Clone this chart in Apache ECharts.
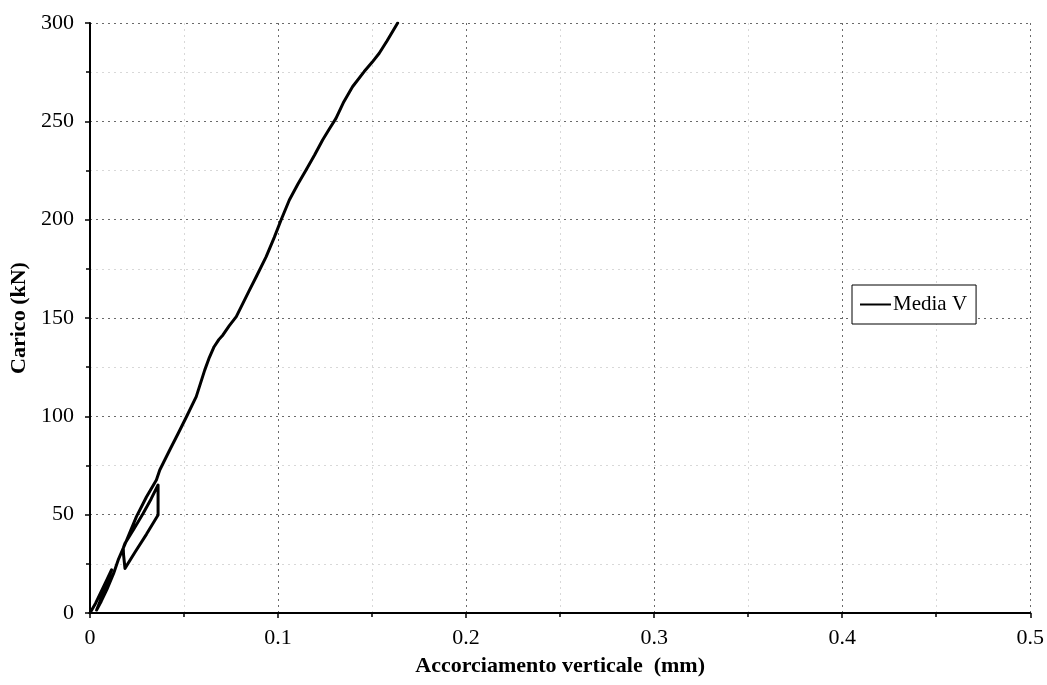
<!DOCTYPE html>
<html>
<head>
<meta charset="utf-8">
<script src="https://cdn.jsdelivr.net/npm/echarts@6/dist/echarts.min.js"></script>
<style>
  html, body { margin: 0; padding: 0; background: #fff; }
  #chart { width: 1047px; height: 685px; }
</style>
</head>
<body>
<div id="chart"></div>
<script>
// Vertical shortening (mm) vs load (kN), averaged transducers "Media V"

// first small load/unload near the origin
const startX = [0, 0.003, 0.006, 0.009, 0.0115, 0.008, 0.005, 0.0035];
const startY = [0, 5, 11, 17, 22, 13, 5, 1.5];

// reloading up to the first cycle peak
const reloadX = [0.006, 0.009, 0.0125, 0.0150, 0.0177, 0.0186, 0.0235, 0.0283, 0.0325, 0.0362];
const reloadY = [6, 12, 20, 27, 33, 35.4, 43, 50.7, 58, 65.1];

// load drop, unloading and return to the envelope
const cycleX = [0.0362, 0.0300, 0.0240, 0.0186, 0.0178, 0.0177];
const cycleY = [49.8, 40, 31, 22.7, 30, 32.9];

// final loading branch up to 300 kN
const branchX = [0.0210, 0.0247, 0.0300, 0.0353, 0.0371, 0.0424, 0.0470, 0.0513, 0.0565, 0.0610,
                 0.0635, 0.0660, 0.0685, 0.0707, 0.0740, 0.0778, 0.0848, 0.0884, 0.0937, 0.0980,
                 0.1016, 0.1060, 0.1105, 0.1149, 0.1195, 0.1237, 0.1275, 0.1308, 0.1350, 0.1396,
                 0.1458, 0.1500, 0.1538, 0.1580, 0.1636];
const branchY = [40.5, 49, 59, 67.6, 72.7, 82.9, 91.5, 99.8, 110, 123.5,
                 130, 135.4, 139, 141.4, 146, 150.7, 164.2, 171, 181.2, 191,
                 199.8, 210, 218, 225.3, 233, 240.5, 246.5, 251.5, 260, 267.6,
                 275.3, 280, 284.6, 291, 300];

const seriesName = 'Media V';
const xTitle = 'Accorciamento verticale  (mm)';
const yTitle = 'Carico (kN)';

const pairs = [];
[[startX, startY], [reloadX, reloadY], [cycleX, cycleY], [branchX, branchY]].forEach(([xs, ys]) => {
  xs.forEach((x, i) => pairs.push([x, ys[i]]));
});

const serif = '"Liberation Serif", "DejaVu Serif", "Times New Roman", serif';

const majorGrid = { show: true, lineStyle: { color: '#6a6a6a', width: 1, type: [2, 4] } };
const minorGrid = { show: true, lineStyle: { color: '#d8d8d8', width: 1, type: [2, 4] } };

const chart = echarts.init(document.getElementById('chart'), null, { renderer: 'canvas' });
chart.setOption({
  backgroundColor: '#fff',
  animation: false,
  grid: { left: 90, right: 14, top: 23, bottom: 72, containLabel: false },
  legend: {
    left: 852, top: 285,
    orient: 'vertical',
    backgroundColor: '#fff',
    borderColor: '#000', borderWidth: 1,
    padding: [9, 9, 9, 8],
    itemWidth: 31, itemHeight: 2,
    icon: 'rect',
    itemStyle: { color: '#000' },
    textStyle: { fontFamily: serif, fontSize: 21, color: '#000', padding: [0, 0, 0, -3] },
    data: [seriesName]
  },
  xAxis: {
    type: 'value', min: 0, max: 0.5, interval: 0.1,
    name: xTitle, nameLocation: 'middle', nameGap: 42,
    nameTextStyle: { fontFamily: serif, fontSize: 22, fontWeight: 'bold', color: '#000' },
    axisLine: { show: true, onZero: false, lineStyle: { color: '#000', width: 2 } },
    axisTick: { show: true, length: 5, lineStyle: { color: '#000', width: 1.5 } },
    minorTick: { show: true, splitNumber: 2, length: 4, lineStyle: { color: '#000', width: 1.5 } },
    axisLabel: { fontFamily: serif, fontSize: 22, color: '#000', margin: 14 },
    splitLine: majorGrid,
    minorSplitLine: minorGrid
  },
  yAxis: {
    type: 'value', min: 0, max: 300, interval: 50,
    name: yTitle, nameLocation: 'middle', nameGap: 54,
    nameTextStyle: { fontFamily: serif, fontSize: 22, fontWeight: 'bold', color: '#000' },
    axisLine: { show: true, onZero: false, lineStyle: { color: '#000', width: 2 } },
    axisTick: { show: true, length: 5, lineStyle: { color: '#000', width: 1.5 } },
    minorTick: { show: true, splitNumber: 2, length: 4, lineStyle: { color: '#000', width: 1.5 } },
    axisLabel: { fontFamily: serif, fontSize: 22, color: '#000', margin: 16 },
    splitLine: majorGrid,
    minorSplitLine: minorGrid
  },
  series: [{
    name: seriesName,
    type: 'line',
    data: pairs,
    showSymbol: false,
    symbol: 'none',
    clip: true,
    lineStyle: { color: '#000', width: 3, join: 'round', cap: 'round' },
    itemStyle: { color: '#000' }
  }]
});
</script>
</body>
</html>
